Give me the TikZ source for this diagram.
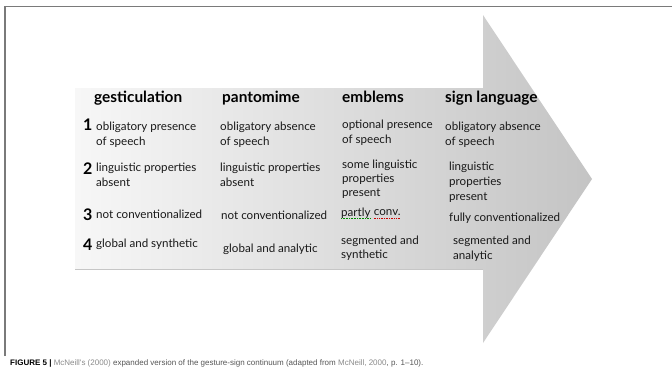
\documentclass[tikz,border=0pt]{standalone}
\usepackage{fontspec}
\setmainfont{Lato}
\newfontfamily\capfont{Liberation Sans}
\usetikzlibrary{positioning}
\definecolor{framegray}{HTML}{7A7A7A}
\definecolor{shadeL}{HTML}{F7F7F7}
\definecolor{shadeR}{HTML}{C4C4C4}
\definecolor{captext}{HTML}{555555}
\definecolor{caplink}{HTML}{8A8A8A}
\tikzset{
  head/.style={font=\fontsize{15.4}{17}\selectfont\bfseries, anchor=base west, inner sep=0pt},
  num/.style={font=\fontsize{16}{17}\selectfont\bfseries, anchor=base west, inner sep=0pt},
  cell/.style={font=\fontsize{11.6}{15}\selectfont, anchor=west, align=left, inner sep=0pt, text=black!90},
}
\begin{document}
\begin{tikzpicture}[x=1pt,y=-1pt]
\useasboundingbox (0,0) rectangle (672,375);
% frame
\draw[framegray, line width=1.2pt] (5,356) -- (5,6.5) -- (672,6.5);
% arrow
\shade[left color=shadeL, right color=shadeR]
  (75,88) -- (483,88) -- (483,15) -- (592,179) -- (483,343) -- (483,269) -- (75,269) -- cycle;
\draw[gray!45, line width=0.6pt] (75,269) -- (483,269);
% headers
\node[head] (h1) at (94,102) {gesticulation};
\node[head] (h2) at (222,102) {pantomime};
\node[head] (h3) at (342,102) {emblems};
\node[head] (h4) at (445,102) {sign language};
% numbers
\node[num] (n1) at (83,130) {1};
\node[num] (n2) at (83,174) {2};
\node[num] (n3) at (83,220) {3};
\node[num] (n4) at (83,250) {4};
% row 1
\node[cell] (c11) at (96,134.5) {obligatory presence\\of speech};
\node[cell] (c12) at (220,134.5) {obligatory absence\\of speech};
\node[cell] (c13) at (342,132.5) {optional presence\\of speech};
\node[cell] (c14) at (445,134.5) {obligatory absence\\of speech};
% row 2
\node[cell] (c21) at (96,174.5) {linguistic properties\\absent};
\node[cell] (c22) at (220,174.5) {linguistic properties\\absent};
\node[cell, font=\fontsize{11.6}{14}\selectfont] (c23) at (342,179) {some linguistic\\properties\\present};
\node[cell] (c24) at (449,182) {linguistic\\properties\\present};
% row 3
\node[cell] (c31) at (96,214) {not conventionalized};
\node[cell] (c32) at (221,215) {not conventionalized};
\node[cell] (c33a) at (341,213) {partly};
\node[cell, right=3pt of c33a.east, anchor=west] (c33b) {conv.};
\node[cell] (c34) at (449,218) {fully conventionalized};
\draw[green!55!black, densely dotted, line width=0.6pt] ([yshift=-2.5pt]c33a.base west) -- ([yshift=-2.5pt]c33a.base east);
\draw[red!80!black, densely dotted, line width=0.7pt] ([yshift=-2.5pt]c33b.base west) -- ([yshift=-2.5pt]c33b.base east);
% row 4
\node[cell] (c41) at (96,244) {global and synthetic};
\node[cell] (c42) at (223,249) {global and analytic};
\node[cell, font=\fontsize{11.6}{14}\selectfont] (c43) at (341,248) {segmented and\\synthetic};
\node[cell] (c44) at (453,248.5) {segmented and\\analytic};
% caption
\node[anchor=base west, inner sep=0pt, font=\capfont\fontsize{8}{9}\selectfont, text=captext] (cap) at (10,365)
  {\textcolor{black}{\bfseries FIGURE 5 |} \textcolor{caplink}{McNeill's (2000)} expanded version of the gesture-sign continuum (adapted from \textcolor{caplink}{McNeill, 2000}, p. 1–10).};
\end{tikzpicture}
\end{document}
